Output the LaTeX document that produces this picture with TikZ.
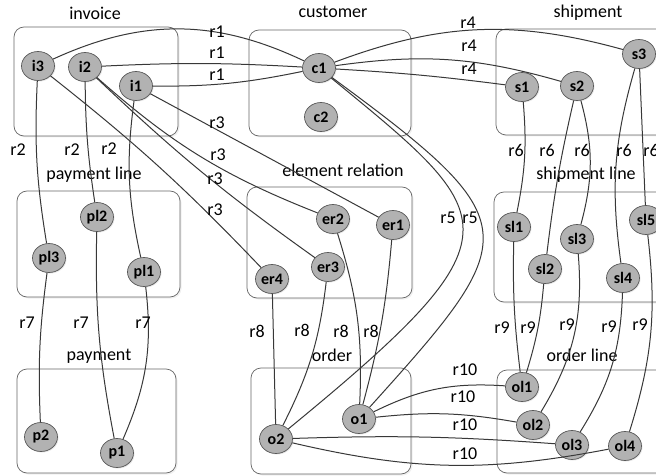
\documentclass[tikz,border=0pt]{standalone}
\usepackage{fontspec}
\setmainfont{Carlito}
\usetikzlibrary{shapes.geometric,shadows}

\begin{document}
\begin{tikzpicture}
  [x=1pt,y=-1pt,every node/.style={font=\fontsize{18}{20}\selectfont}]
  \tikzstyle{entity} = [ellipse,draw=black!65,fill=black!30,line width=.7pt,
    minimum width=33pt,minimum height=29pt,inner sep=0pt,
    font=\fontsize{16}{18}\selectfont\bfseries,
    drop shadow={opacity=.2,shadow xshift=1pt,shadow yshift=-1pt}]
  \tikzstyle{group} = [draw=black!60,fill=white,line width=.7pt,rounded corners=10pt,
    drop shadow={opacity=.12,shadow xshift=1.5pt,shadow yshift=-1.5pt}]
  \tikzstyle{link} = [draw=black!78,line width=1pt]
  \tikzstyle{rel} = [inner sep=1pt]
  \useasboundingbox (0,0) rectangle (656,476);

  % groups
  \draw[group] (14,27) rectangle (178,136);
  \draw[group] (249,30) rectangle (411,136);
  \draw[group] (496,29) rectangle (680,135);
  \draw[group] (17,191) rectangle (180,297);
  \draw[group] (247,187) rectangle (412,298);
  \draw[group] (494,192) rectangle (680,302);
  \draw[group] (17,369) rectangle (176,473);
  \draw[group] (251,368) rectangle (411,474);
  \draw[group] (497,370) rectangle (680,473);

  \node (invoice) at (95,13) {invoice};
  \node (customer) at (333,12) {customer};
  \node (shipment) at (588,13) {shipment};
  \node (paymentline) at (94,175) {payment line};
  \node (elementrel) at (343,170) {element relation};
  \node (shipmentline) at (586,175) {shipment line};
  \node (payment) at (99,356) {payment};
  \node (order) at (332,355) {order};
  \node (orderline) at (582,355) {order line};

  % entities
  \node[entity] (i3) at (38,66) {i3};
  \node[entity] (i2) at (85,67) {i2};
  \node[entity] (i1) at (136,86) {i1};
  \node[entity] (c1) at (319,68) {c1};
  \node[entity] (c2) at (321,117) {c2};
  \node[entity] (s1) at (522,87) {s1};
  \node[entity] (s2) at (577,86) {s2};
  \node[entity] (s3) at (639,54) {s3};
  \node[entity] (pl2) at (97,217) {pl2};
  \node[entity] (pl3) at (49,258) {pl3};
  \node[entity] (pl1) at (144,272) {pl1};
  \node[entity] (er2) at (333,219) {er2};
  \node[entity] (er1) at (393,225) {er1};
  \node[entity] (er3) at (328,267) {er3};
  \node[entity] (er4) at (272,279) {er4};
  \node[entity] (sl1) at (514,227) {sl1};
  \node[entity] (sl3) at (577,239) {sl3};
  \node[entity] (sl2) at (545,269) {sl2};
  \node[entity] (sl4) at (623,278) {sl4};
  \node[entity] (sl5) at (646,220) {sl5};
  \node[entity] (p2) at (41,437) {p2};
  \node[entity] (p1) at (117,453) {p1};
  \node[entity] (o1) at (359,419) {o1};
  \node[entity] (o2) at (276,439) {o2};
  \node[entity] (ol1) at (522,387) {ol1};
  \node[entity] (ol2) at (533,425) {ol2};
  \node[entity] (ol3) at (572,445) {ol3};
  \node[entity] (ol4) at (625,446) {ol4};

  % relations (bend > 0 bends left)
\foreach \source /\dest /\bend in {i3/c1/25,i2/c1/3,i1/c1/-6,c1/s3/18,c1/s2/12,c1/s1/2}
   \draw[link] (\source) to[bend left=\bend] (\dest);
\foreach \source /\dest /\bend in {i1/er1/0,i2/er2/-10,i2/er3/-4,i3/er4/4,i3/pl3/-6,i2/pl2/-4,i1/pl1/-10}
   \draw[link] (\source) to[bend left=\bend] (\dest);
\foreach \source /\dest /\bend in {pl3/p2/-5,pl2/p1/-6,pl1/p1/15,er4/o2/0,er3/o2/10,er2/o1/10,er1/o1/5}
   \draw[link] (\source) to[bend left=\bend] (\dest);
\foreach \source /\dest /\bend in {s1/sl1/8,s2/sl2/-3,s2/sl3/15,s3/sl4/-12,s3/sl5/0}
   \draw[link] (\source) to[bend left=\bend] (\dest);
\foreach \source /\dest /\bend in {sl1/ol1/-4,sl2/ol1/6,sl3/ol2/18,sl4/ol3/15,sl5/ol4/12}
   \draw[link] (\source) to[bend left=\bend] (\dest);
\foreach \source /\dest /\bend in {o1/ol1/15,o1/ol2/8,o2/ol3/3,o2/ol4/-12}
   \draw[link] (\source) to[bend left=\bend] (\dest);
  % the two long ones round the right
  \draw[link] (c1) .. controls (502,218) and (526,234) .. (o2);
  \draw[link] (c1) .. controls (530,223) and (524,236) .. (o1);

  % relation names
\foreach \x /\y /\name [count=\i] in {217/32/r1,217/53/r1,217/75/r1,468/23/r4,469/46/r4,469/69/r4,
    217/123/r3,218/155/r3,215/179/r3,215/210/r3,18/150/r2,72/150/r2,109/149/r2,
    27/323/r7,81/323/r7,143/323/r7,257/331/r8,302/330/r8,341/331/r8,371/331/r8,
    448/218/r5,470/218/r5,516/150/r6,547/150/r6,582/150/r6,624/150/r6,651/150/r6,
    502/328/r9,528/328/r9,567/325/r9,609/327/r9,640/325/r9,
    465/370/r10,463/397/r10,465/425/r10,465/454/r10}
   \node[rel] (rn\i) at (\x,\y) {\name};

\end{tikzpicture}
\end{document}
